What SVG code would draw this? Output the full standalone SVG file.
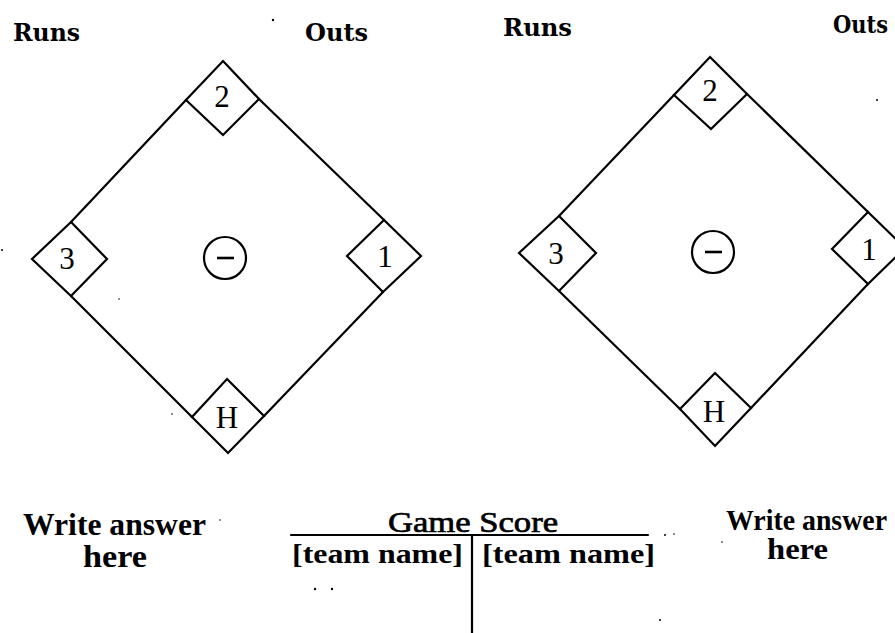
<svg xmlns="http://www.w3.org/2000/svg" width="895" height="633" viewBox="0 0 895 633">
<style>
.ln{fill:none;stroke:#000;stroke-width:2.2;stroke-linejoin:miter;stroke-linecap:round}
.base{fill:#fff;stroke:#000;stroke-width:2.2;stroke-linejoin:miter}
.bl{font-family:"Liberation Serif","Times New Roman",serif;font-size:31px;text-anchor:middle;fill:#000}
.hd{font-family:"DejaVu Serif","Liberation Serif",serif;font-weight:bold;font-size:24px;fill:#000}
.wa{font-family:"Liberation Serif","Times New Roman",serif;font-weight:bold;font-size:31px;fill:#000}
.wr{font-family:"Liberation Serif","Times New Roman",serif;font-weight:bold;font-size:29px;fill:#000}
.gs{font-family:"Liberation Serif","Times New Roman",serif;font-size:30px;fill:#000;stroke:#000;stroke-width:0.7}
.tn{font-family:"Liberation Serif","Times New Roman",serif;font-weight:bold;font-size:28px;fill:#000}
.pc{fill:#fff;stroke:#000;stroke-width:2.2}
.mn{stroke:#000;stroke-width:2.6}
.sp{fill:#000}
</style>

<!-- headers -->
<g id="hdr-left-runs"><text class="hd" x="13" y="41" textLength="67" lengthAdjust="spacingAndGlyphs">Runs</text></g>
<g id="hdr-left-outs"><text class="hd" x="305" y="41" textLength="63" lengthAdjust="spacingAndGlyphs">Outs</text></g>
<g id="hdr-right-runs"><text class="hd" x="503" y="36" textLength="69" lengthAdjust="spacingAndGlyphs">Runs</text></g>
<g id="hdr-right-outs"><text class="hd" x="833" y="33" textLength="55" lengthAdjust="spacingAndGlyphs">Outs</text></g>

<!-- connectors: base paths -->
<g id="connectors" class="ln">
  <line x1="186" y1="100" x2="71" y2="222"/>
  <line x1="71" y1="296" x2="192" y2="417"/>
  <line x1="264" y1="416" x2="383" y2="292"/>
  <line x1="384" y1="220" x2="259" y2="99"/>
  <line x1="674" y1="95" x2="559" y2="216"/>
  <line x1="559" y1="291" x2="680" y2="409"/>
  <line x1="751" y1="408" x2="868" y2="284"/>
  <line x1="868" y1="212" x2="747" y2="94"/>
</g>

<!-- left field bases -->
<g id="L-second"><polygon class="base" points="223,61 259,99 223,135 186,100"/><text class="bl" x="222" y="107">2</text></g>
<g id="L-third"><polygon class="base" points="71,222 107,259 71,296 32,259"/><text class="bl" x="67" y="269">3</text></g>
<g id="L-first"><polygon class="base" points="384,220 421,256 383,292 347,256"/><text class="bl" x="385" y="267">1</text></g>
<g id="L-home"><polygon class="base" points="227,379 264,416 228,453 192,417"/><text class="bl" x="227" y="428">H</text></g>
<g id="L-mound"><circle class="pc" cx="225" cy="258" r="21"/><line class="mn" x1="217" y1="258" x2="234" y2="258"/></g>

<!-- right field bases -->
<g id="R-second"><polygon class="base" points="710,57 747,94 711,129 674,95"/><text class="bl" x="710" y="101">2</text></g>
<g id="R-third"><polygon class="base" points="559,216 596,253 559,291 519,253"/><text class="bl" x="556" y="264">3</text></g>
<g id="R-first"><polygon class="base" points="868,212 905,248 868,284 832,249"/><text class="bl" x="869" y="260">1</text></g>
<g id="R-home"><polygon class="base" points="715,373 751,408 715,446 680,409"/><text class="bl" x="714" y="422">H</text></g>
<g id="R-mound"><circle class="pc" cx="713" cy="252" r="21"/><line class="mn" x1="705" y1="252" x2="722" y2="252"/></g>

<!-- answer prompts -->
<g id="answer-left">
  <text class="wa" x="23" y="535" textLength="183" lengthAdjust="spacingAndGlyphs">Write answer</text>
  <text class="wa" x="83" y="567" textLength="64" lengthAdjust="spacingAndGlyphs">here</text>
</g>
<g id="answer-right">
  <text class="wr" x="726" y="530" textLength="161" lengthAdjust="spacingAndGlyphs">Write answer</text>
  <text class="wr" x="767" y="559" textLength="61" lengthAdjust="spacingAndGlyphs">here</text>
</g>

<!-- game score table -->
<g id="game-score">
  <text class="gs" x="388" y="532" textLength="170" lengthAdjust="spacingAndGlyphs">Game Score</text>
  <line class="ln" x1="291" y1="535" x2="648" y2="535"/>
  <line class="ln" x1="472" y1="535" x2="472" y2="633"/>
  <text class="tn" x="292" y="563" textLength="171" lengthAdjust="spacingAndGlyphs">[team name]</text>
  <text class="tn" x="482" y="563" textLength="173" lengthAdjust="spacingAndGlyphs">[team name]</text>
</g>

<!-- scan specks -->
<g id="specks" class="sp">
  <circle cx="273" cy="20" r="1.2"/>
  <circle cx="877" cy="100" r="1"/>
  <circle cx="2" cy="250" r="1"/>
  <circle cx="119" cy="299" r="0.8"/>
  <circle cx="172" cy="414" r="0.8"/>
  <circle cx="315" cy="589" r="1.2"/>
  <circle cx="332" cy="589" r="1.2"/>
  <circle cx="665" cy="535" r="1"/>
  <circle cx="674" cy="534" r="0.8"/>
  <circle cx="722" cy="542" r="0.8"/>
  <circle cx="660" cy="620" r="1"/>
  <circle cx="220" cy="520" r="0.8"/>
</g>
</svg>
